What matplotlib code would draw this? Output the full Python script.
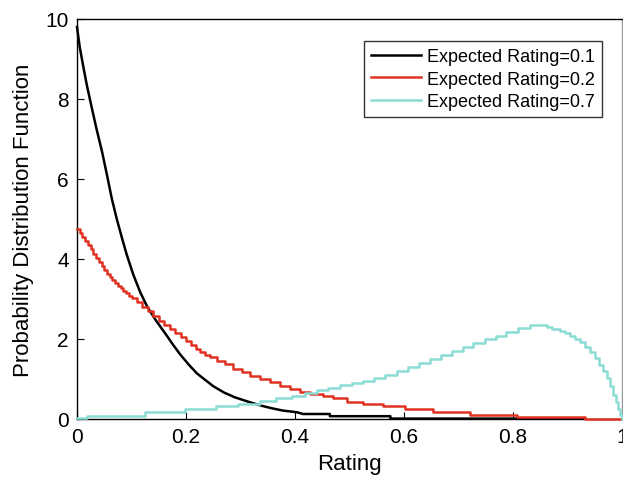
import matplotlib
matplotlib.use("Agg")
import matplotlib.pyplot as plt

plt.rcParams['font.family'] = ['Liberation Sans', 'DejaVu Sans']

# Expected Rating = 0.1 (polyline)
x_01 = [0.000, 0.005, 0.011, 0.018, 0.026, 0.035, 0.046, 0.055, 0.064, 0.073,
        0.082, 0.091, 0.103, 0.116, 0.128, 0.143, 0.155, 0.165, 0.175, 0.189,
        0.205, 0.220, 0.250, 0.270, 0.290, 0.317, 0.339, 0.357, 0.378, 0.403,
        0.415, 0.464, 0.464, 0.575, 0.575, 0.932]
y_01 = [9.80, 9.30, 8.85, 8.35, 7.85, 7.30, 6.68, 6.10, 5.50, 5.00,
        4.55, 4.12, 3.62, 3.17, 2.83, 2.50, 2.27, 2.08, 1.88, 1.62,
        1.36, 1.14, 0.82, 0.66, 0.54, 0.42, 0.33, 0.27, 0.21, 0.17,
        0.125, 0.125, 0.07, 0.07, 0.01, 0.01]

# Expected Rating = 0.2 (stairs)
x_02 = [0.000, 0.005, 0.010, 0.015, 0.020, 0.025, 0.030, 0.035, 0.040, 0.045,
        0.050, 0.055, 0.060, 0.065, 0.070, 0.075, 0.080, 0.085, 0.090, 0.095,
        0.100, 0.110, 0.120, 0.130, 0.140, 0.150, 0.160, 0.170, 0.180, 0.190,
        0.200, 0.210, 0.218, 0.226, 0.235, 0.244, 0.256, 0.272, 0.287, 0.302,
        0.317, 0.336, 0.354, 0.372, 0.391, 0.409, 0.428, 0.452, 0.470, 0.495,
        0.525, 0.562, 0.602, 0.654, 0.721, 0.807, 0.932, 1.000]
y_02 = [4.75, 4.65, 4.55, 4.45, 4.35, 4.24, 4.13, 4.02, 3.92, 3.82,
        3.73, 3.63, 3.54, 3.47, 3.40, 3.33, 3.27, 3.20, 3.14, 3.08,
        3.03, 2.92, 2.81, 2.69, 2.57, 2.46, 2.36, 2.26, 2.16, 2.05,
        1.94, 1.84, 1.76, 1.67, 1.60, 1.54, 1.46, 1.375, 1.25, 1.17,
        1.08, 1.00, 0.92, 0.83, 0.75, 0.68, 0.625, 0.58, 0.52, 0.43,
        0.375, 0.32, 0.25, 0.18, 0.11, 0.06, 0.00, 0.00]

# Expected Rating = 0.7 (stairs)
x_07 = [0.000, 0.018, 0.125, 0.198, 0.255, 0.295, 0.335, 0.366, 0.394, 0.418,
        0.440, 0.461, 0.483, 0.505, 0.525, 0.545, 0.565, 0.587, 0.607, 0.627,
        0.648, 0.668, 0.688, 0.708, 0.727, 0.748, 0.768, 0.788, 0.810, 0.831,
        0.862, 0.872, 0.886, 0.896, 0.905, 0.914, 0.923, 0.932, 0.941, 0.950,
        0.958, 0.965, 0.972, 0.978, 0.984, 0.989, 0.993, 0.997, 1.000]
y_07 = [0.02, 0.08, 0.17, 0.25, 0.32, 0.38, 0.44, 0.52, 0.58, 0.65,
        0.72, 0.78, 0.84, 0.90, 0.96, 1.03, 1.11, 1.21, 1.30, 1.40,
        1.50, 1.60, 1.71, 1.81, 1.91, 2.00, 2.08, 2.17, 2.27, 2.35,
        2.29, 2.25, 2.20, 2.14, 2.07, 2.00, 1.92, 1.80, 1.67, 1.52,
        1.36, 1.20, 1.02, 0.82, 0.60, 0.42, 0.25, 0.10, 0.00]

x_ticks = [0, 0.2, 0.4, 0.6, 0.8, 1]
x_tick_labels = ['0', '0.2', '0.4', '0.6', '0.8', '1']
y_ticks = [0, 2, 4, 6, 8, 10]

fig = plt.figure(figsize=(6.23, 4.81), dpi=100)
ax = fig.add_axes([77 / 623, 61 / 481, 545 / 623, 400 / 481])

ax.plot(x_01, y_01, color='black', lw=1.8, clip_on=False, zorder=3,
        label='Expected Rating=0.1')
ax.plot(x_02, y_02, color='#e03222', lw=1.8, drawstyle='steps-post',
        clip_on=False, zorder=3, label='Expected Rating=0.2')
ax.plot(x_07, y_07, color='#8adcd4', lw=1.8, drawstyle='steps-post',
        clip_on=False, zorder=3, label='Expected Rating=0.7')

ax.set_xlim(0, 1)
ax.set_ylim(0, 10)
ax.set_xticks(x_ticks)
ax.set_xticklabels(x_tick_labels)
ax.set_yticks(y_ticks)
ax.tick_params(direction='in', length=5, labelsize=15, pad=6)
for s in ax.spines.values():
    s.set_linewidth(1.0)
ax.spines['right'].set_color('#999999')

ax.set_xlabel('Rating', fontsize=16, labelpad=5)
ax.set_ylabel('Probability Distribution Function', fontsize=16, labelpad=8)

leg = ax.legend(loc='upper right', bbox_to_anchor=(0.963, 0.945), fontsize=13,
                frameon=True, fancybox=False, edgecolor='black',
                handlelength=2.8, handletextpad=0.3, borderpad=0.4,
                labelspacing=0.3, borderaxespad=0)
leg.get_frame().set_linewidth(1.0)

fig.savefig('out.png', dpi=100)
